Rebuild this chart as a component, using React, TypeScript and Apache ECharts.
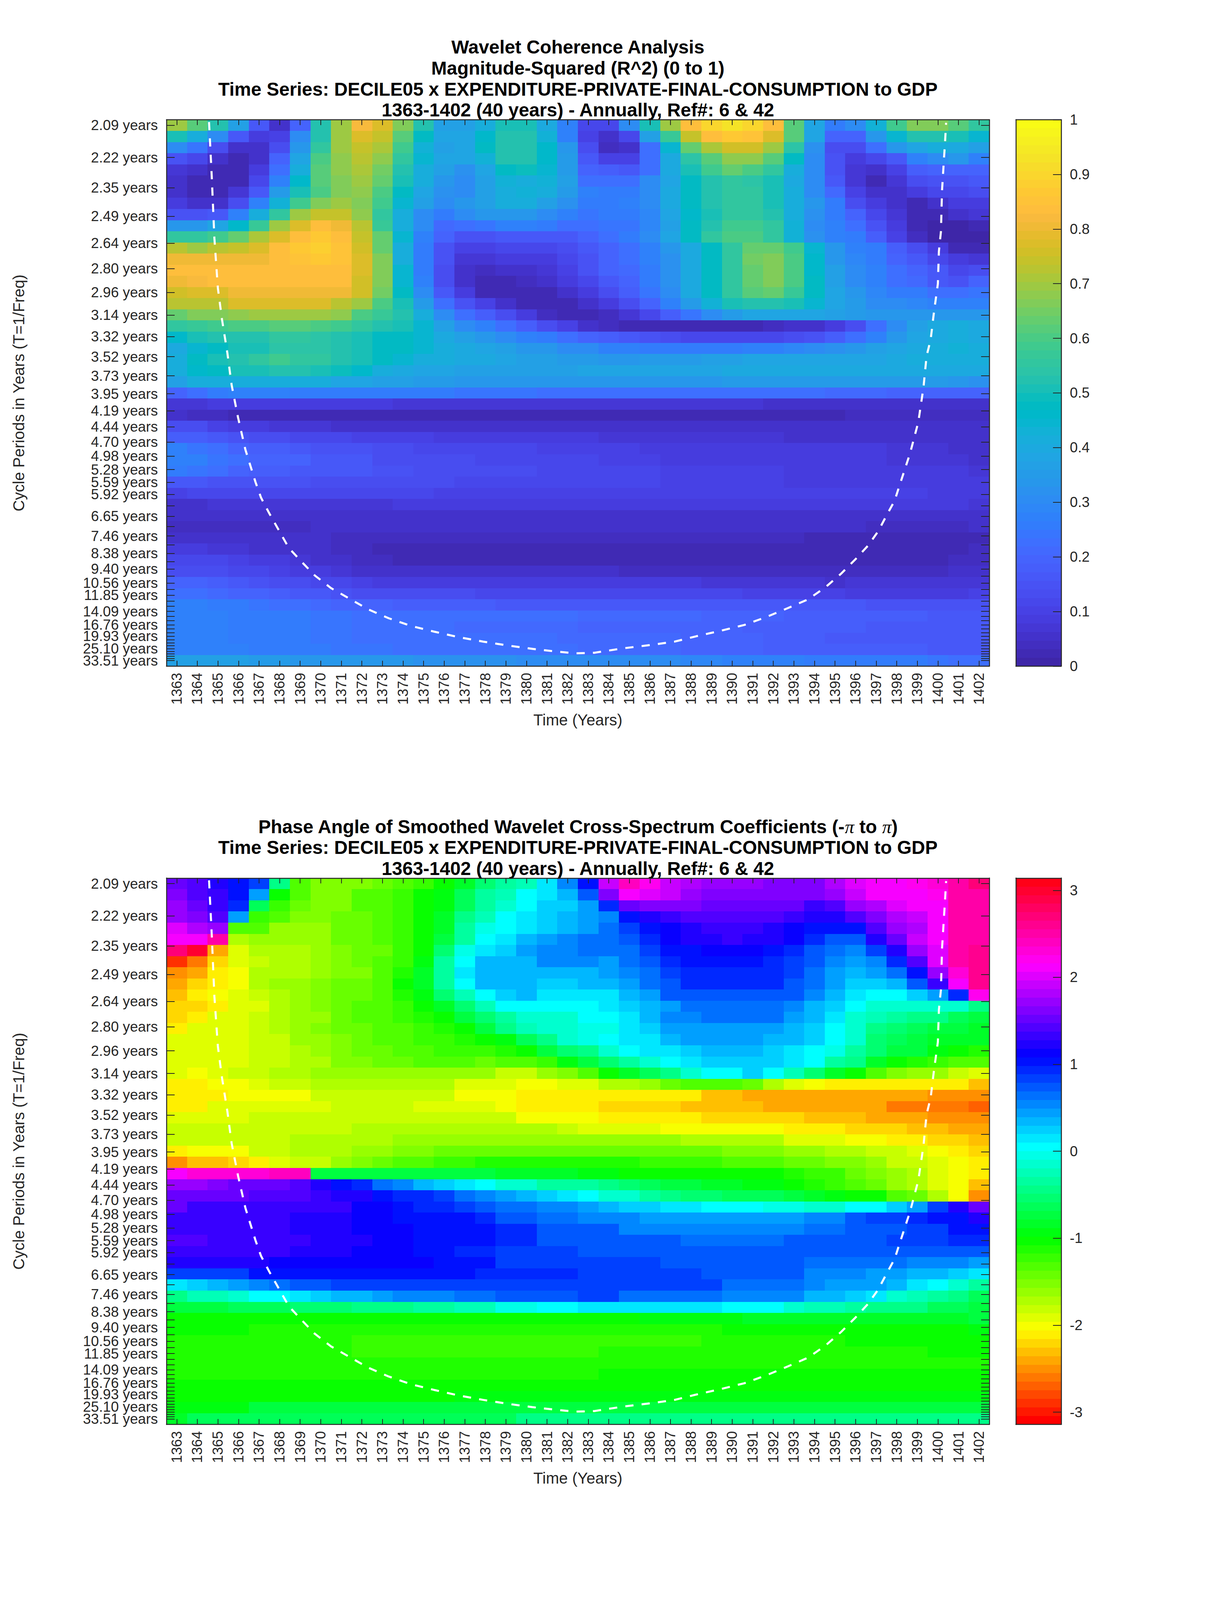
import React, { useEffect, useRef } from "react";
import * as echarts from "echarts";

const FONT = '"Liberation Sans", Arial, sans-serif';
const INK = "#262626";

const years = ["1363","1364","1365","1366","1367","1368","1369","1370","1371","1372","1373","1374","1375","1376","1377","1378","1379","1380","1381","1382","1383","1384","1385","1386","1387","1388","1389","1390","1391","1392","1393","1394","1395","1396","1397","1398","1399","1400","1401","1402"];

const periods = [2.094,2.219,2.351,2.49,2.638,2.795,2.961,3.137,3.324,3.521,3.731,3.952,4.187,4.436,4.7,4.979,5.275,5.589,5.921,6.273,6.646,7.041,7.46,7.904,8.374,8.872,9.399,9.958,10.55,11.18,11.84,12.55,13.29,14.08,14.92,15.81,16.75,17.74,18.8,19.92,21.1,22.36,23.69,25.1,26.59,28.17,29.85,31.62,33.51];
const periodLabels = ["2.09 years","2.22 years","2.35 years","2.49 years","2.64 years","2.80 years","2.96 years","3.14 years","3.32 years","3.52 years","3.73 years","3.95 years","4.19 years","4.44 years","4.70 years","4.98 years","5.28 years","5.59 years","5.92 years","","6.65 years","","7.46 years","","8.38 years","","9.40 years","","10.56 years","","11.85 years","","","14.09 years","","","16.76 years","","","19.93 years","","","","25.10 years","","","","","33.51 years"];

// parula(64)
const parulaColors = [[.2422,.1504,.6603],[.2504,.165,.7076],[.2578,.1818,.7511],[.2647,.1978,.7952],[.2706,.2147,.8364],[.2751,.2342,.871],[.2783,.2559,.8991],[.2803,.2782,.9221],[.2813,.3006,.9414],[.281,.3228,.9579],[.2795,.3447,.9717],[.276,.3667,.9829],[.2699,.3892,.9906],[.2602,.4123,.9952],[.244,.4358,.9988],[.2206,.4603,.9973],[.1963,.4847,.9892],[.1834,.5074,.9798],[.1786,.5289,.9682],[.1764,.5499,.952],[.1687,.5703,.9359],[.154,.5902,.9218],[.146,.6091,.9079],[.138,.6276,.8973],[.1248,.6459,.8883],[.1113,.6635,.8763],[.0952,.6798,.8598],[.0689,.6948,.8394],[.0297,.7082,.8163],[.0036,.7199,.7917],[.0067,.7303,.766],[.0433,.7411,.7394],[.0964,.75,.712],[.1408,.7584,.6842],[.1717,.767,.6554],[.1938,.7758,.6251],[.2161,.7843,.5923],[.247,.7918,.5567],[.2906,.7973,.5188],[.3406,.8008,.4789],[.3909,.8029,.4354],[.4456,.8024,.3909],[.5044,.7993,.348],[.5616,.7942,.3045],[.6174,.7876,.2612],[.672,.7793,.2227],[.7242,.7698,.191],[.7738,.7598,.1646],[.8203,.7498,.1535],[.8634,.7406,.1596],[.9035,.733,.1774],[.9393,.7288,.21],[.9728,.7298,.2394],[.9956,.7434,.2371],[.997,.7659,.2199],[.9952,.7861,.1996],[.9892,.8136,.1885],[.9786,.8386,.1766],[.9676,.8639,.1643],[.961,.889,.1537],[.9597,.9135,.1423],[.9628,.9373,.1265],[.9691,.9606,.1064],[.9769,.9839,.0805]];

// R^2 in hundredths, one row per period, one value per year
const coherence = [
[70,62,52,37,17,6,20,52,70,82,78,67,52,37,37,42,50,50,40,27,12,12,30,50,70,83,90,93,90,83,62,38,25,30,43,58,67,67,62,56],
[50,42,30,16,9,10,30,53,70,78,74,62,47,38,38,46,53,53,43,27,10,5,12,37,57,74,83,86,85,77,61,38,20,20,33,45,52,52,50,45],
[30,24,14,6,5,13,34,56,70,74,71,58,43,37,38,48,53,53,46,33,14,4,6,22,45,63,71,76,76,70,54,32,14,13,22,33,38,41,40,36],
[15,11,6,3,6,20,39,60,68,73,68,55,45,39,38,43,53,53,46,35,17,10,10,22,40,54,62,68,68,62,48,30,15,8,12,17,27,30,33,28],
[7,5,2,2,9,23,42,61,68,71,65,52,42,36,32,39,48,49,44,35,20,18,17,23,40,50,58,63,60,56,42,30,15,7,6,10,18,20,20,20],
[6,3,2,3,12,27,46,61,67,70,63,51,41,34,30,37,43,42,43,37,23,23,22,30,38,48,53,56,54,50,40,30,16,7,3,7,13,15,15,17],
[5,3,3,7,17,35,50,60,67,68,60,48,39,32,30,36,42,43,41,35,27,25,26,30,40,48,52,55,55,51,41,31,21,10,5,5,8,12,12,13],
[8,5,6,13,27,43,58,67,70,67,58,44,36,31,34,37,41,42,37,32,26,26,27,30,40,47,52,55,55,51,41,33,25,13,8,5,3,6,8,9],
[15,15,17,28,41,55,69,74,74,68,56,41,31,25,30,34,34,33,30,28,24,25,25,29,38,46,50,55,55,53,42,32,26,20,12,7,2,2,5,7],
[33,33,38,46,57,69,78,84,80,72,57,41,30,21,23,24,27,27,25,23,22,24,24,29,37,47,52,59,59,55,43,31,28,23,15,8,2,1,1,2],
[55,55,58,64,71,77,83,87,84,74,64,45,28,20,15,15,17,17,17,17,20,22,25,30,38,48,55,60,60,55,43,32,28,25,18,10,4,1,1,1],
[72,70,72,74,78,83,87,89,85,75,63,42,25,15,10,10,12,12,12,13,16,20,23,28,33,40,48,55,63,64,58,44,34,28,25,18,14,8,3,2],
[80,80,80,80,80,83,85,86,85,77,66,42,25,15,7,7,8,9,9,12,15,20,22,27,32,40,48,55,65,67,60,46,34,29,26,20,17,12,8,7],
[83,83,83,83,83,83,83,83,83,77,67,45,25,13,5,4,5,6,7,10,15,19,21,26,32,40,47,56,64,66,60,46,36,30,27,22,20,16,12,13],
[81,82,83,83,83,83,83,83,83,76,67,45,27,13,6,3,3,4,5,8,12,17,20,26,32,40,47,56,64,66,60,47,37,31,27,23,21,17,15,19],
[76,77,77,80,80,80,80,80,80,75,65,47,30,17,9,3,2,2,3,5,9,14,18,24,31,40,47,55,62,63,57,47,38,33,29,26,25,22,22,24],
[73,73,73,77,77,78,78,77,73,70,60,50,35,22,15,10,5,2,2,3,5,9,14,20,27,35,43,50,53,53,50,44,39,35,31,30,29,27,27,28],
[63,66,66,68,70,70,69,69,68,60,57,52,42,30,22,18,14,8,4,3,3,4,7,12,18,24,30,35,38,39,39,38,37,35,33,33,33,33,33,33],
[55,57,58,60,60,62,61,60,58,55,52,50,45,37,30,27,23,18,14,10,6,4,3,3,3,3,3,3,3,4,5,6,8,14,22,30,36,40,42,40],
[46,50,52,53,53,55,55,54,53,50,48,47,44,40,36,34,31,28,25,22,20,18,17,15,13,12,12,12,12,12,13,15,18,22,28,33,38,40,42,40],
[40,44,47,50,50,54,54,54,52,50,47,47,44,42,40,38,36,34,33,31,30,28,27,26,25,25,25,26,27,28,29,30,32,34,36,38,40,42,43,42],
[42,47,50,52,56,58,56,55,53,50,47,45,42,41,40,40,38,37,36,35,35,34,34,35,35,35,36,37,38,38,38,38,38,38,38,40,41,42,42,42],
[42,46,48,50,50,53,52,50,49,46,42,40,38,38,37,37,36,36,36,37,38,38,39,39,39,39,39,40,40,40,40,40,40,40,40,40,40,40,40,40],
[37,41,42,42,42,42,42,41,38,38,37,36,35,35,34,33,33,33,33,33,33,33,33,33,34,34,34,35,35,35,35,35,35,35,35,35,35,35,33,32],
[19,22,25,27,27,27,26,26,25,25,25,25,25,25,24,24,24,24,23,23,23,23,23,23,23,23,22,22,22,22,22,22,21,21,21,20,20,20,20,19],
[7,7,8,8,9,9,8,8,8,8,8,7,7,7,7,7,7,7,7,7,7,7,7,7,7,7,7,7,7,6,6,6,6,6,6,6,6,6,6,6],
[5,4,4,3,3,3,3,3,3,3,3,3,3,3,3,3,3,3,3,3,3,3,3,3,3,3,3,3,3,3,3,3,3,4,4,4,4,4,4,4],
[13,13,10,9,9,7,7,7,5,5,5,5,5,5,5,5,5,5,5,5,5,5,5,5,5,5,5,5,5,5,5,5,5,5,5,5,5,5,5,5],
[18,18,16,15,13,13,12,12,12,10,10,10,10,9,9,9,9,8,8,8,8,7,7,7,7,7,7,7,7,7,6,6,6,6,6,5,5,5,5,5],
[28,24,23,20,18,18,17,15,15,15,13,13,12,12,12,11,11,11,10,10,10,10,10,9,9,9,9,9,9,9,8,8,8,8,8,7,7,7,6,6],
[28,27,24,22,20,20,20,16,16,16,14,14,13,13,13,12,12,12,11,11,11,10,10,10,9,9,9,9,9,9,8,8,8,8,8,7,7,7,7,6],
[25,24,22,20,18,18,17,17,17,16,15,15,14,14,14,13,13,13,12,12,12,12,11,11,10,10,10,10,10,10,9,9,9,9,8,8,8,8,8,7],
[17,16,15,15,15,15,15,14,14,14,13,13,13,13,12,12,12,12,12,11,11,11,11,11,10,10,10,10,10,10,9,9,9,9,9,9,8,8,8,8],
[10,12,12,12,12,12,11,11,11,11,11,11,11,10,10,10,10,10,10,10,10,10,10,10,10,10,10,10,10,10,10,10,10,10,10,10,10,9,9,9],
[5,5,7,7,7,7,7,7,7,7,7,8,8,8,8,8,8,8,8,8,9,9,9,9,9,9,9,9,9,9,9,9,9,9,8,8,8,8,8,7],
[5,5,5,5,5,5,5,5,5,5,5,5,6,6,6,6,6,6,6,6,6,6,6,6,6,6,6,6,6,6,6,6,6,6,6,6,5,5,5,5],
[4,4,4,4,4,4,4,5,5,5,5,5,5,5,5,5,5,5,5,5,6,6,6,6,6,6,6,6,6,6,6,6,5,5,4,4,4,4,4,5],
[5,5,5,5,5,5,5,5,4,4,4,4,4,4,4,4,4,4,4,4,4,4,4,4,4,4,4,4,4,4,4,3,3,3,3,3,3,3,3,3],
[8,8,7,7,6,6,5,5,4,4,3,3,3,3,3,3,3,3,3,3,2,2,2,2,2,2,2,2,2,2,2,2,2,2,2,2,2,2,2,4],
[12,12,11,10,9,8,7,6,5,4,4,3,3,3,3,3,3,3,2,2,2,2,2,2,2,2,2,2,2,2,3,3,3,3,3,3,3,3,4,4],
[14,14,13,12,11,10,9,8,7,6,6,5,5,5,5,5,5,5,5,5,5,5,4,4,4,4,4,4,4,4,4,4,4,4,4,4,4,4,5,5],
[19,19,18,17,15,14,13,12,11,10,9,9,9,8,8,8,8,8,8,8,8,8,8,8,8,8,7,7,7,7,7,7,6,7,7,7,7,7,7,7],
[22,22,21,20,19,18,17,16,15,14,13,13,13,13,13,12,12,12,12,12,12,12,12,12,12,11,11,11,10,10,10,10,10,9,9,9,9,9,9,10],
[27,27,26,25,24,23,22,21,20,20,19,18,18,18,18,18,17,17,17,17,17,17,17,17,17,17,16,16,16,16,16,16,16,16,15,15,15,15,15,15],
[27,27,27,26,26,25,25,24,24,23,23,23,22,22,22,22,22,22,22,22,21,21,21,21,21,21,20,20,19,19,18,18,18,18,18,18,18,17,17,17],
[27,27,27,26,26,25,25,24,24,23,23,22,22,22,21,21,21,21,21,21,20,20,20,20,20,20,19,19,18,18,18,18,18,18,17,17,17,17,17,17],
[27,27,27,26,26,25,25,24,24,23,23,23,22,22,22,22,22,22,22,21,21,21,21,21,21,20,19,19,19,18,18,18,17,17,17,17,16,16,16,16],
[28,28,27,27,26,26,25,25,24,24,24,23,23,22,22,22,22,22,22,22,21,21,21,21,21,20,20,19,19,18,18,18,18,18,18,18,18,17,17,17],
[37,37,36,36,35,35,34,34,33,33,33,33,32,32,32,32,32,31,31,31,31,31,30,30,30,29,29,28,28,27,27,26,26,26,25,25,25,24,23,23],
];

// phase angle in radians, one row per period, one value per year
const phase = [
[1.5,1.4,1.25,1,.8,-.4,-1.3,-1.5,-1.5,-1.5,-1.4,-1.3,-1.2,-1,-.8,-.5,-.3,-.2,.1,.5,1,1.95,2.4,2.2,1.9,1.85,1.75,1.75,1.75,1.65,1.6,1.6,1.8,2,2.1,2.15,2.2,2.3,2.5,2.7],
[1.6,1.45,1.3,1.05,.4,-1,-1.35,-1.5,-1.5,-1.35,-1.3,-1.2,-1.05,-.9,-.6,-.35,-.2,0,.15,.35,.7,1.6,2.15,2,1.9,1.75,1.65,1.6,1.6,1.6,1.6,1.6,1.7,1.95,2.1,2.1,2.1,2.2,2.5,2.55],
[1.7,1.5,1.3,.95,-.6,-1.2,-1.45,-1.5,-1.5,-1.35,-1.3,-1.2,-1.05,-.9,-.6,-.35,-.1,.05,.2,.25,.4,.9,1.55,1.65,1.65,1.65,1.55,1.5,1.5,1.5,1.5,1.35,1.45,1.75,1.85,2,2.1,2.15,2.5,2.55],
[1.75,1.6,1.4,.4,-1.2,-1.35,-1.55,-1.55,-1.45,-1.4,-1.3,-1.2,-1.05,-.8,-.45,-.2,0,.15,.2,.3,.4,.55,1.05,1.2,1.35,1.45,1.45,1.45,1.45,1.45,1.35,1.25,1.25,1.4,1.6,1.8,1.95,2.1,2.5,2.55],
[2,1.85,1.75,-1.35,-1.35,-1.6,-1.6,-1.6,-1.45,-1.4,-1.3,-1.2,-1.05,-.8,-.35,-.05,0,.15,.25,.35,.4,.6,.85,1.05,1.15,1.25,1.35,1.35,1.35,1.25,1.15,1.05,1,1.05,1.4,1.7,1.85,2.1,2.5,2.55],
[2.1,2.15,2.5,-1.7,-1.65,-1.65,-1.65,-1.6,-1.45,-1.4,-1.3,-1.2,-1.05,-.75,-.3,0,.1,.3,.4,.5,.6,.65,.75,.95,1.1,1.2,1.25,1.3,1.2,1.2,1.1,.95,.7,.7,1.2,1.55,1.9,2.1,2.5,2.55],
[2.7,3,-2.4,-1.9,-1.75,-1.7,-1.7,-1.6,-1.55,-1.45,-1.4,-1.2,-1,-.5,-.05,.1,.25,.45,.5,.55,.6,.6,.65,.85,1,1.05,1.1,1.1,1.1,1.05,.9,.7,.6,.55,.85,1.2,1.7,2.05,2.5,2.6],
[-2.9,-2.6,-2.2,-1.95,-1.8,-1.7,-1.7,-1.6,-1.5,-1.45,-1.3,-1.2,-.9,-.35,0,.3,.35,.35,.5,.5,.5,.45,.6,.75,.95,1.05,1.05,1.05,1.05,.95,.85,.7,.5,.4,.55,.9,1.45,2,2.5,2.6],
[-2.55,-2.4,-2.15,-2,-1.75,-1.7,-1.7,-1.6,-1.55,-1.5,-1.3,-1.1,-.85,-.3,.1,.3,.35,.35,.35,.35,.35,.4,.5,.65,.85,.95,.95,.95,.95,.95,.8,.6,.4,.3,.45,.65,1.05,1.75,2.35,2.6],
[-2.4,-2.25,-2.1,-2,-1.75,-1.65,-1.65,-1.55,-1.45,-1.45,-1.3,-1.05,-.85,-.35,0,.3,.35,.35,.2,.2,.3,.35,.45,.6,.75,.9,.9,.9,.9,.9,.75,.6,.4,.2,.2,.3,.7,1.3,2.1,2.6],
[-2.3,-2.15,-2.05,-1.95,-1.85,-1.75,-1.6,-1.5,-1.45,-1.4,-1.35,-1.15,-.95,-.55,-.25,0,.2,.3,.15,.15,.15,.15,.35,.45,.7,.75,.75,.75,.75,.75,.7,.55,.35,.15,0,0,.25,.4,.9,2.2],
[-2.2,-2.2,-2.15,-1.95,-1.9,-1.75,-1.65,-1.5,-1.45,-1.35,-1.35,-1.2,-1.05,-.8,-.5,-.2,0,0,0,0,0,.1,.25,.35,.45,.6,.65,.65,.65,.65,.55,.35,.25,0,-.1,-.15,-.15,-.15,-.15,-.4],
[-2.25,-2.1,-1.95,-1.95,-1.85,-1.75,-1.6,-1.6,-1.45,-1.3,-1.35,-1.25,-1.15,-1,-.7,-.5,-.3,-.1,-.1,-.1,0,0,.1,.3,.5,.5,.6,.6,.6,.6,.45,.35,.1,-.1,-.25,-.3,-.4,-.45,-.6,-.7],
[-2.1,-1.95,-1.95,-1.9,-1.85,-1.7,-1.6,-1.55,-1.45,-1.45,-1.35,-1.3,-1.25,-1.1,-1,-.75,-.45,-.25,-.15,-.1,-.05,-.05,.1,.25,.4,.45,.45,.45,.45,.4,.3,.2,.05,-.1,-.4,-.5,-.6,-.7,-.7,-.8],
[-1.95,-1.95,-1.9,-1.9,-1.8,-1.8,-1.65,-1.65,-1.5,-1.45,-1.35,-1.3,-1.25,-1.25,-1.15,-1.05,-.9,-.65,-.45,-.15,-.05,0,.1,.15,.3,.4,.4,.45,.45,.35,.35,.25,0,-.15,-.5,-.6,-.7,-.8,-.85,-.85],
[-1.95,-1.95,-1.9,-1.9,-1.85,-1.8,-1.7,-1.65,-1.55,-1.45,-1.4,-1.35,-1.3,-1.25,-1.25,-1.2,-1.15,-1.05,-.75,-.55,-.4,-.1,0,.1,.15,.2,.3,.3,.3,.25,.15,.05,-.05,-.35,-.5,-.7,-.75,-.95,-1.05,-1.1],
[-1.95,-1.95,-1.9,-1.9,-1.85,-1.8,-1.7,-1.7,-1.5,-1.5,-1.45,-1.4,-1.35,-1.35,-1.35,-1.45,-1.3,-1.3,-1.2,-.95,-.7,-.55,-.3,-.1,.05,.15,.2,.2,.2,.2,.1,.05,-.3,-.45,-.85,-1,-1.1,-1.2,-1.3,-1.35],
[-1.95,-2,-1.95,-1.85,-1.85,-1.75,-1.75,-1.65,-1.65,-1.65,-1.65,-1.65,-1.65,-1.65,-1.65,-1.65,-1.8,-1.8,-1.65,-1.55,-1.3,-1.05,-.85,-.6,-.4,-.15,0,0,.2,0,-.2,-.5,-.85,-1,-1.3,-1.5,-1.6,-1.65,-1.8,-1.9],
[-2.1,-2.1,-2,-2,-1.95,-1.85,-1.85,-1.75,-1.75,-1.75,-1.75,-1.75,-1.75,-1.75,-1.9,-1.9,-1.9,-2,-2,-1.95,-1.9,-1.75,-1.75,-1.65,-1.4,-1.35,-1.35,-1.35,-1.45,-1.75,-1.9,-2,-2.1,-2.1,-2.1,-2.15,-2.15,-2.15,-2.15,-2.3],
[-2.1,-2.1,-2.1,-2,-2,-2,-2,-1.85,-1.85,-1.85,-1.85,-1.85,-1.85,-1.85,-2,-2,-2,-2.1,-2.1,-2.1,-2.1,-2.1,-2.1,-2.15,-2.15,-2.15,-2.3,-2.3,-2.4,-2.4,-2.4,-2.4,-2.4,-2.4,-2.4,-2.4,-2.4,-2.55,-2.55,-2.55],
[-2.1,-2.1,-1.95,-1.95,-1.95,-1.95,-1.95,-1.95,-1.85,-1.85,-1.85,-1.85,-1.95,-1.95,-1.95,-1.95,-2,-2.1,-2.1,-2.1,-2.1,-2.2,-2.2,-2.2,-2.2,-2.3,-2.3,-2.3,-2.3,-2.45,-2.45,-2.45,-2.45,-2.45,-2.45,-2.6,-2.6,-2.6,-2.6,-2.7],
[-1.9,-1.9,-1.9,-1.9,-1.85,-1.85,-1.85,-1.85,-1.85,-1.85,-1.85,-1.85,-1.85,-1.85,-1.85,-1.85,-1.85,-2,-2,-2,-2,-2.1,-2.1,-2.1,-2.1,-2.1,-2.2,-2.2,-2.2,-2.2,-2.2,-2.3,-2.3,-2.3,-2.45,-2.45,-2.45,-2.55,-2.55,-2.55],
[-1.85,-1.85,-1.85,-1.85,-1.85,-1.85,-1.85,-1.85,-1.85,-1.75,-1.75,-1.75,-1.75,-1.75,-1.75,-1.75,-1.75,-1.75,-1.75,-1.85,-1.9,-1.9,-1.9,-1.9,-2.05,-2.05,-2.05,-2.05,-2.05,-2.05,-2.1,-2.1,-2.1,-2.2,-2.2,-2.2,-2.3,-2.3,-2.45,-2.45],
[-1.85,-1.85,-1.85,-1.85,-1.85,-1.85,-1.75,-1.75,-1.75,-1.75,-1.75,-1.6,-1.6,-1.6,-1.6,-1.6,-1.6,-1.6,-1.6,-1.6,-1.6,-1.65,-1.65,-1.65,-1.65,-1.75,-1.75,-1.75,-1.75,-1.75,-1.9,-1.9,-1.9,-2,-2,-2.1,-2.1,-2.2,-2.2,-2.35],
[-2.1,-2,-2,-2,-1.85,-1.85,-1.75,-1.75,-1.75,-1.6,-1.6,-1.5,-1.5,-1.45,-1.45,-1.45,-1.45,-1.45,-1.45,-1.45,-1.45,-1.45,-1.45,-1.45,-1.45,-1.45,-1.45,-1.55,-1.55,-1.55,-1.65,-1.65,-1.75,-1.75,-1.85,-1.85,-1.95,-2,-2.1,-2.2],
[-2.55,-2.35,-2.3,-2.2,-2.1,-1.95,-1.85,-1.8,-1.65,-1.55,-1.45,-1.35,-1.35,-1.25,-1.25,-1.15,-1.15,-1.15,-1.15,-1.15,-1.15,-1.15,-1.15,-1.25,-1.25,-1.25,-1.25,-1.35,-1.35,-1.35,-1.45,-1.45,-1.55,-1.55,-1.65,-1.8,-1.85,-1.95,-2.05,-2.1],
[2.15,2.3,2.3,2.3,2.3,2.45,2.45,-.75,-.7,-.7,-.7,-.7,-.7,-.7,-.7,-.7,-.8,-.8,-.8,-.8,-.9,-.9,-1,-1.05,-1,-1,-1.05,-1.05,-1,-1,-1.15,-1.25,-1.25,-1.4,-1.55,-1.65,-1.75,-1.9,-2,-2.1],
[1.75,1.75,1.6,1.55,1.55,1.5,1.4,1.2,1.05,.9,.65,.5,.35,.2,.1,0,-.1,-.15,-.3,-.35,-.35,-.45,-.55,-.6,-.7,-.7,-.8,-.8,-.9,-.9,-1,-1.1,-1.2,-1.3,-1.45,-1.6,-1.7,-1.9,-2,-2.3],
[1.55,1.55,1.55,1.55,1.45,1.45,1.45,1.35,1.2,1.2,1.05,.95,.9,.8,.65,.55,.4,.3,.2,.1,0,-.15,-.15,-.3,-.4,-.5,-.55,-.6,-.6,-.65,-.75,-.8,-.95,-1.05,-1.05,-1.3,-1.45,-1.75,-2.05,-2.55],
[1.5,1.35,1.35,1.35,1.35,1.35,1.3,1.3,1.3,1.15,1.15,1.05,.95,.95,.85,.75,.65,.6,.55,.55,.4,.3,.2,.2,.1,.1,0,0,0,-.05,-.05,-.1,-.15,0,0,.2,.4,.8,1.25,1.55],
[1.3,1.3,1.3,1.3,1.3,1.3,1.25,1.25,1.25,1.15,1.15,1.05,1.05,1,1,.9,.75,.75,.65,.6,.55,.5,.5,.4,.4,.4,.4,.4,.4,.4,.4,.55,.55,.7,.8,.85,.9,1,1.05,1.25],
[1.3,1.3,1.3,1.3,1.3,1.3,1.25,1.25,1.25,1.15,1.15,1.15,1.05,1.05,1,1,.9,.9,.75,.75,.7,.7,.55,.55,.55,.55,.55,.55,.55,.55,.55,.65,.65,.7,.7,.75,.85,.85,1,1.05],
[1.4,1.4,1.3,1.3,1.3,1.3,1.3,1.2,1.2,1.2,1.15,1.15,1.05,1.05,1,1,.9,.9,.75,.75,.75,.7,.7,.7,.7,.6,.6,.6,.6,.6,.7,.7,.7,.7,.7,.85,.85,.85,.9,.9],
[1.3,1.3,1.3,1.3,1.3,1.3,1.2,1.2,1.2,1.15,1.15,1.15,1.05,1.05,.95,.95,.85,.85,.85,.85,.75,.7,.7,.7,.7,.7,.7,.7,.7,.7,.7,.7,.7,.7,.7,.7,.7,.7,.7,.7],
[1.25,1.25,1.25,1.25,1.25,1.15,1.15,1.15,1.15,1.15,1.1,1.1,1.1,1,1,1,.85,.85,.85,.85,.8,.8,.8,.8,.7,.7,.7,.7,.7,.7,.7,.6,.6,.6,.6,.6,.5,.5,.5,.4],
[.8,.8,.85,.85,1,1,1,1,1,1,1,1,1,1,1,.9,.9,.9,.9,.9,.8,.8,.8,.8,.8,.8,.7,.7,.7,.7,.7,.55,.55,.55,.45,.45,.35,.35,.25,.1],
[.1,.2,.35,.45,.55,.6,.7,.7,.8,.8,.8,.8,.85,.85,.85,.85,.85,.85,.85,.85,.85,.85,.85,.85,.85,.85,.85,.6,.6,.6,.6,.5,.4,.4,.4,.3,.1,0,-.1,-.3],
[-.4,-.25,-.2,-.1,0,0,.1,.2,.35,.35,.45,.5,.5,.55,.6,.6,.7,.7,.7,.7,.8,.8,.65,.65,.65,.65,.65,.55,.55,.5,.5,.35,.3,.2,.1,-.1,-.2,-.3,-.4,-.6],
[-.7,-.7,-.7,-.6,-.6,-.6,-.5,-.5,-.5,-.4,-.4,-.4,-.3,-.3,-.2,-.2,-.05,-.05,0,0,.1,.1,.1,.1,.1,.1,.1,0,0,0,-.1,-.25,-.25,-.35,-.45,-.45,-.45,-.6,-.6,-.7],
[-1,-1,-1,-1,-1,-1,-1,-1,-1,-1,-1,-1,-1,-1,-1,-1,-1,-1,-1,-1,-1,-1,-1,-.9,-.9,-.9,-.9,-.9,-.8,-.8,-.8,-.8,-.8,-.8,-.8,-.8,-.8,-.8,-.8,-.75],
[-1.05,-1.05,-1.05,-1.05,-1.1,-1.1,-1.1,-1.1,-1.1,-1.1,-1.1,-1.1,-1.1,-1.1,-1.1,-1.1,-1.15,-1.15,-1.15,-1.15,-1.15,-1.1,-1.1,-1.1,-1.1,-1.1,-1.1,-1,-1,-1,-1,-1,-1,-1,-1,-1,-1,-1,-1,-.95],
[-1.15,-1.15,-1.15,-1.15,-1.15,-1.15,-1.15,-1.15,-1.15,-1.25,-1.25,-1.25,-1.25,-1.25,-1.25,-1.25,-1.25,-1.25,-1.25,-1.25,-1.25,-1.25,-1.25,-1.25,-1.25,-1.25,-1.15,-1.15,-1.15,-1.15,-1.15,-1.15,-1.15,-1.05,-1.05,-1.05,-1.05,-1.05,-1.05,-1.05],
[-1.15,-1.15,-1.15,-1.15,-1.15,-1.15,-1.15,-1.15,-1.15,-1.2,-1.2,-1.2,-1.2,-1.2,-1.25,-1.25,-1.25,-1.25,-1.25,-1.25,-1.25,-1.15,-1.15,-1.15,-1.15,-1.15,-1.15,-1.15,-1.15,-1.15,-1.15,-1.15,-1.15,-1.1,-1.1,-1.1,-1.1,-1.05,-1.05,-1.05],
[-1.15,-1.15,-1.15,-1.15,-1.15,-1.15,-1.15,-1.15,-1.15,-1.15,-1.15,-1.15,-1.15,-1.15,-1.15,-1.15,-1.15,-1.15,-1.15,-1.15,-1.15,-1.1,-1.1,-1.1,-1.1,-1.1,-1.1,-1.1,-1.1,-1.1,-1.1,-1.1,-1.1,-1.1,-1.1,-1.1,-1.1,-1.1,-1.1,-1.1],
[-1.1,-1.1,-1.1,-1.1,-1.1,-1.1,-1.1,-1.1,-1.1,-1.1,-1.1,-1.1,-1.1,-1.1,-1.1,-1.1,-1.1,-1.1,-1.1,-1.1,-1.1,-1.05,-1.05,-1.05,-1.05,-1.05,-1.05,-1.05,-1.05,-1.05,-1.05,-1.05,-1.05,-1.05,-1.05,-1.05,-1.05,-1.05,-1.05,-1.05],
[-1.05,-1.05,-1.05,-1.05,-1.05,-1.05,-1.05,-1.05,-1.05,-1.05,-1.05,-1.05,-1.05,-1.05,-1.05,-1.05,-1.05,-1.05,-1.05,-1.05,-1.05,-1.05,-1.05,-1.05,-1.05,-1.05,-1.05,-1.05,-1.05,-1.05,-1.05,-1.05,-1.05,-1.05,-1.05,-1.05,-1.05,-1.05,-1.05,-1.05],
[-1,-1,-1,-1,-1,-1,-1,-1,-1,-1,-1,-1,-1,-1,-.9,-.9,-.9,-.9,-.9,-.9,-.9,-.9,-.9,-.9,-.9,-.9,-.9,-.9,-.9,-.9,-.9,-.9,-.9,-.9,-.9,-.9,-.9,-.9,-.9,-.9],
[-.9,-.9,-.9,-.9,-.75,-.75,-.75,-.75,-.75,-.75,-.75,-.75,-.75,-.75,-.75,-.75,-.75,-.75,-.75,-.75,-.75,-.75,-.7,-.7,-.7,-.7,-.7,-.7,-.7,-.7,-.7,-.7,-.7,-.7,-.7,-.7,-.7,-.7,-.7,-.7],
[-.85,-.65,-.65,-.65,-.65,-.65,-.65,-.65,-.65,-.65,-.65,-.65,-.65,-.65,-.65,-.65,-.65,-.45,-.45,-.45,-.45,-.45,-.45,-.45,-.45,-.45,-.45,-.45,-.45,-.45,-.45,-.45,-.45,-.45,-.45,-.45,-.45,-.45,-.45,-.45],
];

// cone of influence: [position along the years, position along the periods]
const coneYears = [2.07,2.2,2.33,2.5,2.7,2.96,3.17,3.48,3.84,4.33,4.6,5,5.49,5.95,6.5,7.2,8,8.9,9.8,10.8,11.9,13,14.2,15.4,16.6,17.8,19,19.9,20.8,22.2,23.55,24.7,25.8,27,28.1,29.15,30.2,31.2,32.05,32.8,33.5,34.1,34.6,35,35.4,35.6,36.15,36.55,36.8,36.95,37.15,37.3,37.5,37.55,37.65,37.7,37.8,37.85,37.9];
const coneRows = [.2,5,10.6,15.1,17.9,20.9,23.8,26.7,29.6,32.5,33.9,35.3,36.9,38.4,39.5,40.85,42,42.95,43.9,44.7,45.4,45.9,46.4,46.8,47.15,47.45,47.7,47.85,47.8,47.4,47.1,46.8,46.3,45.8,45.3,44.6,43.8,43,41.9,40.7,39.4,38.2,36.9,35.5,34.15,33,29.9,27.1,24,21.2,19.7,17.4,14.7,11.8,10,6.4,3.4,1.95,.27];

const titles1 = ["Wavelet Coherence Analysis", "Magnitude-Squared (R^2) (0 to 1)", "Time Series: DECILE05 x EXPENDITURE-PRIVATE-FINAL-CONSUMPTION to GDP", "1363-1402 (40 years) - Annually, Ref#: 6 & 42"];
const titles2 = ["{b|Phase Angle of Smoothed Wavelet Cross-Spectrum Coefficients (-}{p|π}{b| to }{p|π}{b|)}", "Time Series: DECILE05 x EXPENDITURE-PRIVATE-FINAL-CONSUMPTION to GDP", "1363-1402 (40 years) - Annually, Ref#: 6 & 42"];
const coherenceBarTicks = [0,.1,.2,.3,.4,.5,.6,.7,.8,.9,1];
const phaseBarTicks = [-3,-2,-1,0,1,2,3];

const LEVELS = 64;
const PI = Math.PI;
const REF_H = 6252;
const ROWS_END = 49;
const rgb = (c: number[]) => `rgb(${Math.round(c[0] * 255)},${Math.round(c[1] * 255)},${Math.round(c[2] * 255)})`;
const hsvLevel = (i: number) => {
  const h = (i / LEVELS) * 6, k = Math.floor(h), f = h - k;
  const t = [[1, f, 0], [1 - f, 1, 0], [0, 1, f], [0, 1 - f, 1], [f, 0, 1], [1, 0, 1 - f]][k];
  return rgb(t);
};
const parulaLevel = (i: number) => rgb(parulaColors[i]);
const clampLevel = (i: number) => Math.max(0, Math.min(LEVELS - 1, i));

const first = 1 / periods[0];
const last = 1 / periods[periods.length - 1];
const tickPos = periods.map((p) => 0.5 + (48 * (first - 1 / p)) / (first - last));
// the blank entry at the axis end stops ECharts dropping the label before the last real one
const labelledPos = [...tickPos.filter((_, i) => periodLabels[i] !== ""), ROWS_END];
const yearPos = years.map((_, i) => i + 0.5);

function cellRender(colorOf: (v: number) => string) {
  return (_: any, api: any) => {
    const c = api.value(0), r = api.value(1);
    const a = api.coord([c, r]), b = api.coord([c + 1, r + 1]);
    const x = Math.round(a[0]), y = Math.round(a[1]);
    return { type: "rect", shape: { x, y, width: Math.round(b[0]) - x, height: Math.round(b[1]) - y }, style: { fill: colorOf(api.value(2)) } };
  };
}
function barRender(colorOf: (i: number) => string) {
  return (_: any, api: any) => {
    const a = api.coord([0, api.value(2)]), b = api.coord([1, api.value(1)]);
    const x = Math.round(a[0]), y = Math.round(a[1]);
    return { type: "rect", shape: { x, y, width: Math.round(b[0]) - x, height: Math.round(b[1]) - y }, style: { fill: colorOf(api.value(3)) } };
  };
}
const LEFT = 426, W = 2106, BAR_LEFT = 2600, BAR_W = 116;
const lineStyle = { show: true, onZero: false, lineStyle: { color: INK, width: 2.5 } };

function buildOption(k: number) {
  const H = 2135 * k;
  const tickFont = 56 * k, nameFont = 61.6 * k, titleFont = Math.min(61.6, 73 * k);
  const labelStyle = { color: INK, fontFamily: FONT, fontSize: tickFont };
  const xTick = { show: true, inside: true, length: 21 * k, lineStyle: { color: INK, width: 2 } };
  const yTick = { show: true, inside: true, length: 21, lineStyle: { color: INK, width: 2 } };
  const grid: any[] = [], xAxis: any[] = [], yAxis: any[] = [], series: any[] = [];
  const tops = [468 * k, 3431 * k];
  [0, 1].forEach((n) => {
    const top = tops[n];
    const g = n * 2, b = n * 2 + 1;
    grid.push({ left: LEFT, top, width: W, height: H }, { left: BAR_LEFT, top, width: BAR_W, height: H });
    xAxis.push(
      { gridIndex: g, type: "value", min: 0, max: 40, position: "bottom", z: 10, splitLine: { show: false }, axisLine: lineStyle,
        axisTick: { ...xTick, customValues: yearPos },
        axisLabel: { ...labelStyle, rotate: 90, margin: 26 * k, showMinLabel: true, showMaxLabel: true, hideOverlap: false, customValues: yearPos, formatter: (v: number) => years[Math.round(v - 0.5)] },
        name: "Time (Years)", nameLocation: "middle", nameGap: 213 * k - nameFont / 2 - 2, nameTextStyle: { color: INK, fontFamily: FONT, fontSize: nameFont } },
      { gridIndex: g, type: "value", min: 0, max: 40, position: "top", z: 10, splitLine: { show: false }, axisLine: lineStyle,
        axisTick: { ...xTick, customValues: yearPos }, axisLabel: { show: false } },
    );
    yAxis.push(
      { gridIndex: g, type: "value", min: 0, max: ROWS_END, inverse: true, position: "left", z: 10, splitLine: { show: false }, axisLine: lineStyle,
        axisTick: { ...yTick, customValues: tickPos },
        axisLabel: { ...labelStyle, margin: 22, hideOverlap: false, customValues: labelledPos,
          formatter: (v: number) => {
            if (v >= ROWS_END) return " ";
            let best = 0;
            tickPos.forEach((p, i) => { if (Math.abs(p - v) < Math.abs(tickPos[best] - v)) best = i; });
            return periodLabels[best];
          } },
        name: "Cycle Periods in Years (T=1/Freq)", nameLocation: "middle", nameGap: 378 - nameFont / 2, nameTextStyle: { color: INK, fontFamily: FONT, fontSize: nameFont } },
      { gridIndex: g, type: "value", min: 0, max: ROWS_END, inverse: true, position: "right", z: 10, splitLine: { show: false }, axisLine: lineStyle,
        axisTick: { ...yTick, customValues: tickPos }, axisLabel: { show: false } },
    );
    const lo = n === 0 ? 0 : -PI, hi = n === 0 ? 1 : PI;
    const barTicks = n === 0 ? coherenceBarTicks : phaseBarTicks;
    xAxis.push(
      { gridIndex: b, type: "value", min: 0, max: 1, position: "bottom", z: 10, splitLine: { show: false }, axisLine: lineStyle, axisTick: { show: false }, axisLabel: { show: false } },
      { gridIndex: b, type: "value", min: 0, max: 1, position: "top", z: 10, splitLine: { show: false }, axisLine: lineStyle, axisTick: { show: false }, axisLabel: { show: false } },
    );
    yAxis.push(
      { gridIndex: b, type: "value", min: lo, max: hi, position: "right", z: 10, splitLine: { show: false }, axisLine: lineStyle,
        axisTick: { ...yTick, customValues: barTicks },
        axisLabel: { ...labelStyle, margin: 22, showMinLabel: true, showMaxLabel: true, hideOverlap: false, customValues: barTicks, formatter: (v: number) => String(+v.toFixed(1)) } },
      { gridIndex: b, type: "value", min: lo, max: hi, position: "left", z: 10, splitLine: { show: false }, axisLine: lineStyle, axisTick: { show: false }, axisLabel: { show: false } },
    );
    const ax = n * 4;
    const rows = n === 0 ? coherence : phase;
    const cells: number[][] = [];
    rows.forEach((row, r) => row.forEach((v, c) => cells.push([c, r, v])));
    const colorOf = n === 0
      ? (v: number) => parulaLevel(clampLevel(Math.floor((v / 100) * LEVELS)))
      : (v: number) => hsvLevel(clampLevel(Math.floor(((v + PI) / (2 * PI)) * LEVELS)));
    series.push({ type: "custom", name: n === 0 ? "Coherence" : "Phase", xAxisIndex: ax, yAxisIndex: ax, data: cells, encode: { x: 0, y: 1 }, renderItem: cellRender(colorOf), silent: true, progressive: 0, z: 2 });
    series.push({ type: "line", name: "Cone of influence", xAxisIndex: ax, yAxisIndex: ax, data: coneYears.map((x, i) => [x, coneRows[i]]), showSymbol: false, symbol: "none", smooth: false, silent: true, z: 5, lineStyle: { color: "#fff", width: 7 * Math.max(k, 0.75), type: [32 * k, 32 * k] } });
    const barData = parulaColors.map((_, i) => [0, lo + ((hi - lo) * i) / LEVELS, lo + ((hi - lo) * (i + 1)) / LEVELS, i]);
    series.push({ type: "custom", name: "Colour bar", xAxisIndex: ax + 2, yAxisIndex: ax + 2, data: barData, encode: { x: 0, y: [1, 2] }, renderItem: barRender(n === 0 ? parulaLevel : hsvLevel), silent: true, progressive: 0, z: 2 });
  });
  const ts = { color: "#000", fontFamily: FONT, fontWeight: "bold", fontSize: titleFont };
  const title: any[] = [];
  const base1 = [206, 288, 370, 451];
  const base2 = [3252, 3333, 3415];
  const lift = 0.8 * titleFont;
  titles1.forEach((t, i) => title.push({ text: t, left: 1479, top: base1[i] * k - lift, textAlign: "center", padding: 0, textStyle: ts }));
  titles2.forEach((t, i) => title.push({ text: t, left: 1479, top: base2[i] * k - lift, textAlign: "center", padding: 0,
    textStyle: { ...ts, rich: { b: { ...ts }, p: { color: "#000", fontFamily: '"Liberation Serif", serif', fontStyle: "italic", fontWeight: "normal", fontSize: titleFont } } } }));
  return { animation: false, backgroundColor: "#fff", title, grid, xAxis, yAxis, series };
}

export default function App() {
  const ref = useRef<HTMLDivElement>(null);
  const pageH = Math.min(window.innerHeight || REF_H, REF_H);
  useEffect(() => {
    const chart = echarts.init(ref.current!, undefined, { renderer: "svg" });
    chart.setOption(buildOption(pageH / REF_H) as any);
    return () => chart.dispose();
  }, [pageH]);
  return <div ref={ref} style={{ position: "absolute", left: 0, top: 0, width: 3125, height: pageH }} />;
}
